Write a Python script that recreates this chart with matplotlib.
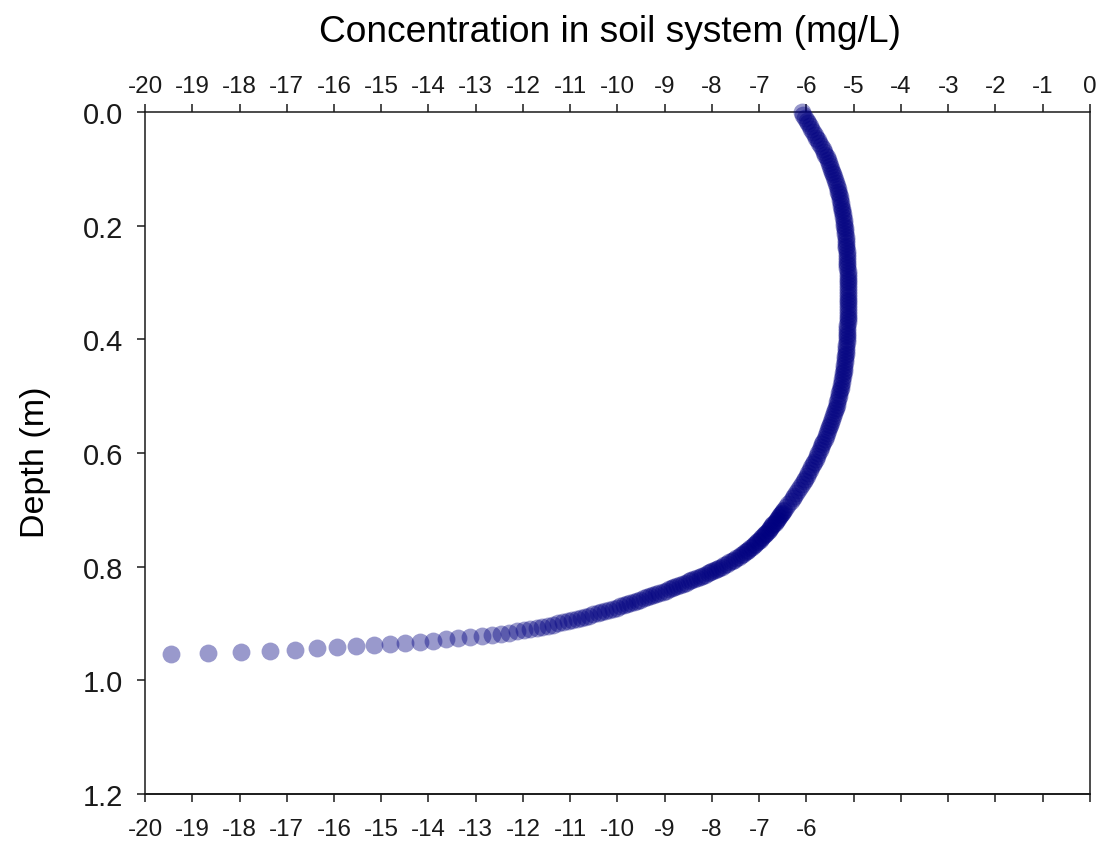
import matplotlib.pyplot as plt

# depth below surface (m) for each computed point
depth = [
    0.000, 0.005, 0.010, 0.015, 0.020, 0.025, 0.030, 0.035, 0.040, 0.045,
    0.050, 0.055, 0.060, 0.065, 0.070, 0.075, 0.080, 0.085, 0.090, 0.095,
    0.100, 0.105, 0.110, 0.115, 0.120, 0.125, 0.130, 0.135, 0.140, 0.145,
    0.150, 0.155, 0.160, 0.165, 0.170, 0.175, 0.180, 0.185, 0.190, 0.195,
    0.200, 0.205, 0.210, 0.215, 0.220, 0.225, 0.230, 0.235, 0.240, 0.245,
    0.250, 0.255, 0.260, 0.265, 0.270, 0.275, 0.280, 0.285, 0.290, 0.295,
    0.300, 0.305, 0.310, 0.315, 0.320, 0.325, 0.330, 0.335, 0.340, 0.345,
    0.350, 0.355, 0.360, 0.365, 0.370, 0.375, 0.380, 0.385, 0.390, 0.395,
    0.400, 0.405, 0.410, 0.415, 0.420, 0.425, 0.430, 0.435, 0.440, 0.445,
    0.450, 0.455, 0.460, 0.465, 0.470, 0.475, 0.480, 0.485, 0.490, 0.495,
    0.500, 0.505, 0.510, 0.515, 0.520, 0.525, 0.530, 0.535, 0.540, 0.545,
    0.550, 0.555, 0.560, 0.565, 0.570, 0.575, 0.580, 0.585, 0.590, 0.595,
    0.600, 0.605, 0.610, 0.615, 0.620, 0.625, 0.630, 0.635, 0.640, 0.645,
    0.650, 0.655, 0.660, 0.665, 0.670, 0.675, 0.680, 0.685, 0.690, 0.695,
    0.700,
    0.7025, 0.7050, 0.7075, 0.7100, 0.7125, 0.7150, 0.7175, 0.7200, 0.7225, 0.7250,
    0.7275, 0.7300, 0.7325, 0.7350, 0.7375, 0.7400, 0.7425, 0.7450, 0.7475, 0.7500,
    0.7525, 0.7550, 0.7575, 0.7600, 0.7625, 0.7650, 0.7675, 0.7700, 0.7725, 0.7750,
    0.7775, 0.7800, 0.7825, 0.7850, 0.7875, 0.7900, 0.7925, 0.7950, 0.7975, 0.8000,
    0.802, 0.804, 0.806, 0.808, 0.810, 0.812, 0.814, 0.816, 0.818, 0.820,
    0.822, 0.824, 0.826, 0.828, 0.830, 0.832, 0.834, 0.836, 0.838, 0.840,
    0.842, 0.844, 0.846, 0.848, 0.850, 0.852, 0.854, 0.856, 0.858, 0.860,
    0.862, 0.864, 0.866, 0.868, 0.870, 0.872, 0.874, 0.876, 0.878, 0.880,
    0.882, 0.884, 0.886, 0.888, 0.890, 0.892, 0.894, 0.896, 0.898, 0.900,
    0.902, 0.904, 0.906, 0.908, 0.910, 0.912, 0.914, 0.916, 0.918, 0.920,
    0.922, 0.924, 0.926, 0.928, 0.930, 0.932, 0.934, 0.936, 0.938, 0.940,
    0.942, 0.944, 0.946, 0.948, 0.950, 0.952, 0.954,
]

# concentration at each depth
conc = [
    -6.100, -6.066, -6.032, -5.998, -5.964, -5.930, -5.896, -5.862, -5.828, -5.794,
    -5.760, -5.726, -5.692, -5.660, -5.629, -5.599, -5.570, -5.543, -5.518, -5.494,
    -5.471, -5.450, -5.429, -5.410, -5.391, -5.374, -5.357, -5.341, -5.326, -5.312,
    -5.298, -5.285, -5.273, -5.262, -5.251, -5.241, -5.232, -5.223, -5.214, -5.206,
    -5.199, -5.192, -5.185, -5.179, -5.174, -5.169, -5.164, -5.160, -5.156, -5.152,
    -5.149, -5.145, -5.142, -5.139, -5.137, -5.134, -5.132, -5.130, -5.129, -5.127,
    -5.126, -5.125, -5.125, -5.124, -5.124, -5.124, -5.124, -5.124, -5.125, -5.125,
    -5.126, -5.127, -5.129, -5.130, -5.132, -5.134, -5.137, -5.139, -5.142, -5.145,
    -5.149, -5.152, -5.156, -5.160, -5.165, -5.170, -5.176, -5.182, -5.189, -5.196,
    -5.204, -5.212, -5.222, -5.231, -5.242, -5.252, -5.264, -5.276, -5.289, -5.302,
    -5.317, -5.332, -5.348, -5.364, -5.382, -5.400, -5.419, -5.438, -5.458, -5.479,
    -5.500, -5.522, -5.545, -5.569, -5.593, -5.617, -5.643, -5.669, -5.695, -5.722,
    -5.750, -5.778, -5.807, -5.836, -5.866, -5.896, -5.927, -5.958, -5.990, -6.024,
    -6.060, -6.097, -6.135, -6.174, -6.214, -6.255, -6.296, -6.338, -6.381, -6.425,
    -6.469,
    -6.492, -6.514, -6.537, -6.559, -6.582, -6.605, -6.629, -6.652, -6.676, -6.700,
    -6.725, -6.749, -6.774, -6.800, -6.825, -6.851, -6.878, -6.905, -6.933, -6.960,
    -6.990, -7.021, -7.053, -7.086, -7.120, -7.155, -7.191, -7.229, -7.268, -7.308,
    -7.349, -7.392, -7.437, -7.483, -7.531, -7.580, -7.631, -7.684, -7.739, -7.796,
    -7.843, -7.891, -7.940, -7.990, -8.041, -8.095, -8.150, -8.206, -8.262, -8.319,
    -8.376, -8.434, -8.493, -8.552, -8.612, -8.672, -8.733, -8.795, -8.857, -8.920,
    -8.983, -9.047, -9.112, -9.177, -9.243, -9.310, -9.377, -9.445, -9.514, -9.584,
    -9.655, -9.726, -9.798, -9.871, -9.945, -10.021, -10.098, -10.177, -10.257, -10.339,
    -10.423, -10.508, -10.595, -10.683, -10.773, -10.865, -10.959, -11.055, -11.153, -11.253,
    -11.359, -11.471, -11.589, -11.714, -11.846, -11.986, -12.136, -12.296, -12.466, -12.646,
    -12.870, -13.120, -13.380, -13.640, -13.910, -14.190, -14.490, -14.810, -15.150, -15.530,
    -15.930, -16.370, -16.830, -17.350, -17.970, -18.660, -19.450,
]

x_ticks = [-20, -19, -18, -17, -16, -15, -14, -13, -12, -11, -10,
           -9, -8, -7, -6, -5, -4, -3, -2, -1, 0]
top_labels = ['-20', '-19', '-18', '-17', '-16', '-15', '-14', '-13', '-12', '-11', '-10',
              '-9', '-8', '-7', '-6', '-5', '-4', '-3', '-2', '-1', '0']
bottom_labels = ['-20', '-19', '-18', '-17', '-16', '-15', '-14', '-13', '-12', '-11', '-10',
                 '-9', '-8', '-7', '-6', '', '', '', '', '', '']
y_ticks = [0.0, 0.2, 0.4, 0.6, 0.8, 1.0, 1.2]
y_labels = ['0.0', '0.2', '0.4', '0.6', '0.8', '1.0', '1.2']

plt.rcParams['font.family'] = ['Liberation Sans', 'DejaVu Sans']

fig = plt.figure(figsize=(11.01, 8.45), dpi=100)
ax = fig.add_axes([0.1317, 0.0592, 0.8583, 0.8071])

ax.scatter(conc, depth, s=165, color='navy', alpha=0.4, linewidths=0,
           clip_on=False, zorder=3)

ax.set_xlim(-20, 0)
ax.set_ylim(1.2, 0)

# concentration scale on top
ax.xaxis.tick_top()
ax.set_xticks(x_ticks, labels=top_labels)
ax.set_yticks(y_ticks, labels=y_labels)
ax.tick_params(axis='x', direction='out', length=5.8, width=1.1, pad=5,
               labelsize=17.4, colors='#1a1a1a')
ax.tick_params(axis='y', direction='out', length=5.8, width=1.1, pad=10,
               labelsize=21, colors='#1a1a1a')

# second scale along the bottom edge
sec = ax.secondary_xaxis('bottom')
sec.set_xticks(x_ticks, labels=bottom_labels)
sec.tick_params(direction='out', length=5.8, width=1.1, pad=11.5, labelsize=17.4,
                colors='#1a1a1a')
sec.spines['bottom'].set_linewidth(1.1)

for sp in ax.spines.values():
    sp.set_linewidth(1.1)
    sp.set_color('#1a1a1a')

ax.set_xlabel('Concentration in soil system (mg/L)', fontsize=26.7)
ax.xaxis.set_label_position('top')
ax.xaxis.set_label_coords(0.492, 1.104)

ax.set_ylabel('Depth (m)', fontsize=24.5)
ax.yaxis.set_label_coords(-0.10, 0.488)

fig.savefig('out.png', dpi=100)
